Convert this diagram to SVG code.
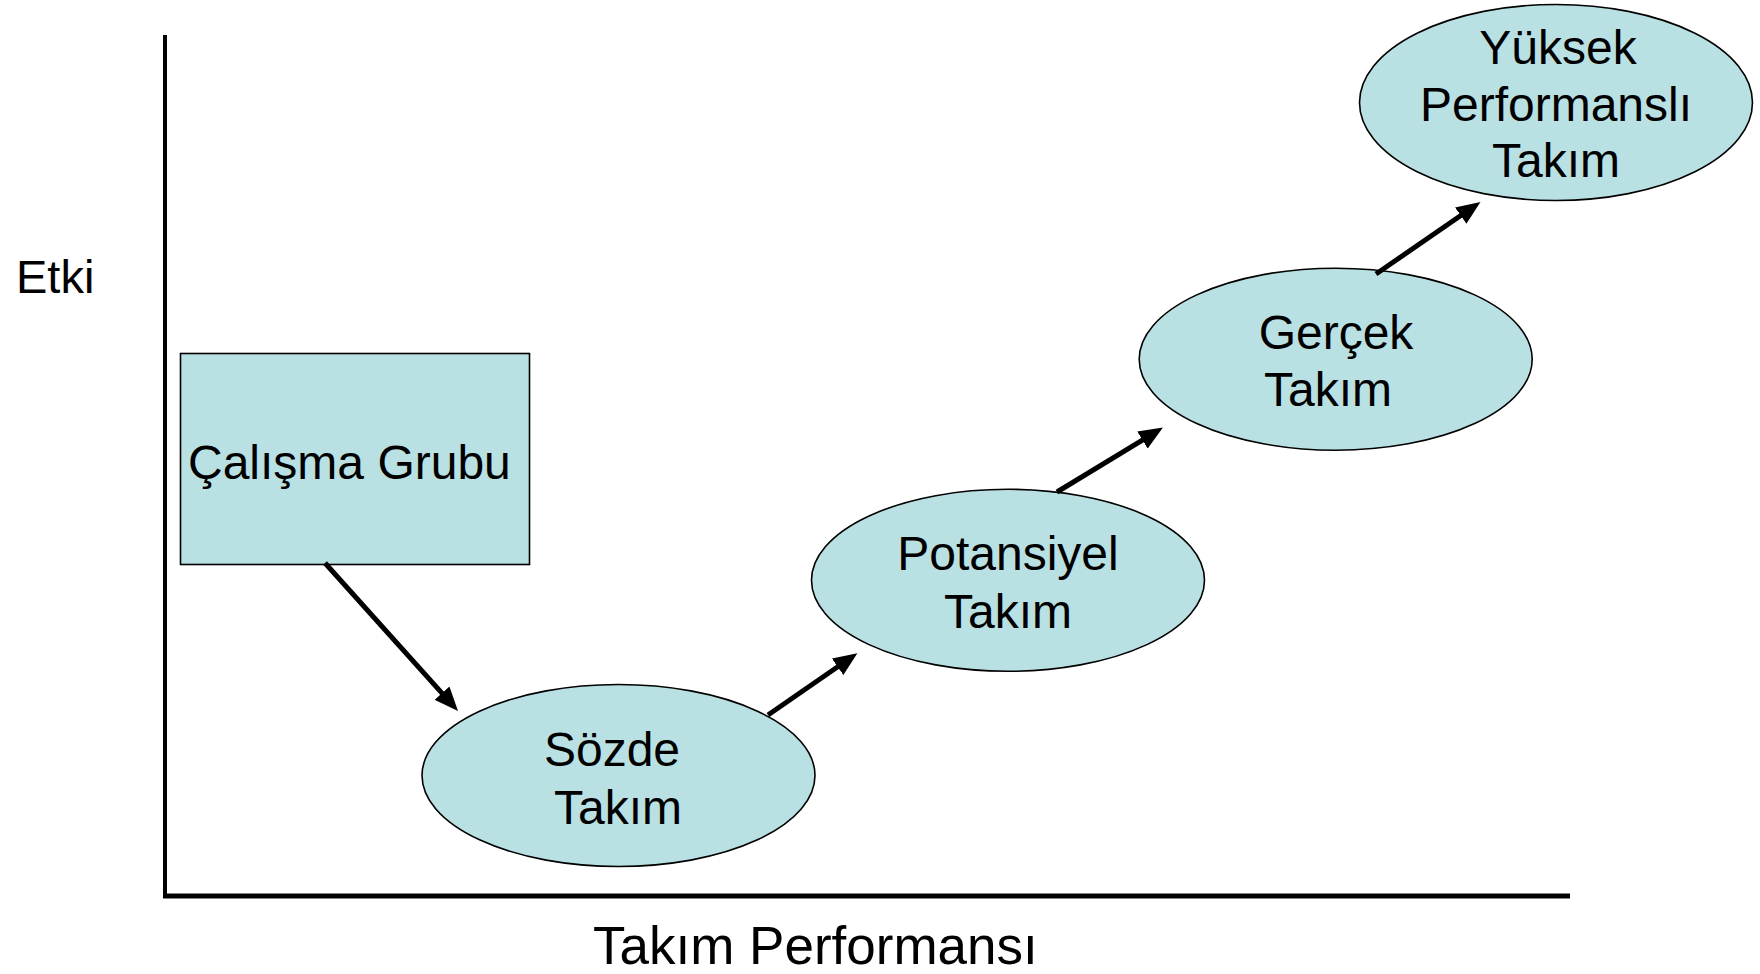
<svg xmlns="http://www.w3.org/2000/svg" width="1760" height="974" viewBox="0 0 1760 974">
  <style>
    .node { fill: #B9E0E3; stroke: #000; stroke-width: 1.6; }
    .lbl { font-family: "Liberation Sans", Arial, sans-serif; font-size: 48px; fill: #000; }
    .axis { stroke: #000; fill: none; }
    .conn { stroke: #000; stroke-width: 5; fill: none; marker-end: url(#ah); }
  </style>
  <defs>
    <marker id="ah" markerUnits="userSpaceOnUse" markerWidth="24" markerHeight="20" viewBox="0 0 24 20" refX="12" refY="10" orient="auto">
      <path d="M0,0 L24,10 L0,20 z" fill="#000"/>
    </marker>
  </defs>
  <rect width="1760" height="974" fill="#fff"/>

  <g id="axes">
    <line class="axis" x1="165" y1="35" x2="165" y2="898" stroke-width="4"/>
    <line class="axis" x1="163" y1="896" x2="1570" y2="896" stroke-width="5"/>
    <text class="lbl" x="16" y="293" style="font-size:47px">Etki</text>
    <text class="lbl" x="593" y="964" style="font-size:53px">Takım Performansı</text>
  </g>

  <g id="calisma-grubu">
    <rect class="node" x="180.5" y="353.5" width="349" height="211"/>
    <text class="lbl" x="188" y="479">Çalışma Grubu</text>
  </g>

  <g id="sozde-takim">
    <ellipse class="node" cx="618.5" cy="775.5" rx="196.5" ry="91"/>
    <text class="lbl" x="612" y="765.5" text-anchor="middle">Sözde</text>
    <text class="lbl" x="618" y="823.5" text-anchor="middle">Takım</text>
  </g>

  <g id="potansiyel-takim">
    <ellipse class="node" cx="1008" cy="580.3" rx="196.5" ry="91"/>
    <text class="lbl" x="1008" y="570" text-anchor="middle">Potansiyel</text>
    <text class="lbl" x="1008" y="627.5" text-anchor="middle">Takım</text>
  </g>

  <g id="gercek-takim">
    <ellipse class="node" cx="1335.7" cy="359.2" rx="196.5" ry="91"/>
    <text class="lbl" x="1336" y="348.5" text-anchor="middle">Gerçek</text>
    <text class="lbl" x="1328" y="405.5" text-anchor="middle">Takım</text>
  </g>

  <g id="yuksek-performansli-takim">
    <ellipse class="node" cx="1556" cy="102.5" rx="196.5" ry="98"/>
    <text class="lbl" x="1558" y="63.5" text-anchor="middle">Yüksek</text>
    <text class="lbl" x="1556" y="120.5" text-anchor="middle">Performanslı</text>
    <text class="lbl" x="1556" y="177" text-anchor="middle">Takım</text>
  </g>

  <g id="connectors">
    <line class="conn" x1="325" y1="563" x2="450" y2="702.1"/>
    <line class="conn" x1="768" y1="715" x2="847.5" y2="660"/>
    <line class="conn" x1="1057" y1="492" x2="1152.7" y2="433.8"/>
    <line class="conn" x1="1376" y1="274" x2="1470.6" y2="208.8"/>
  </g>
</svg>
